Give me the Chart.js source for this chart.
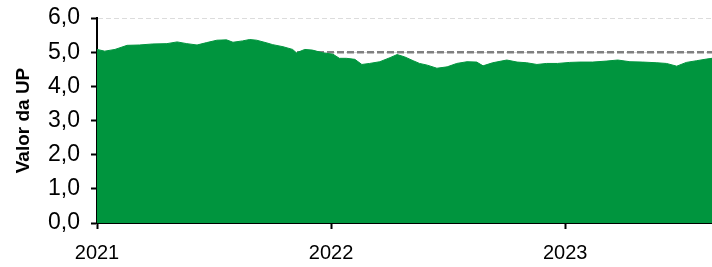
<!DOCTYPE html>
<html>
<head>
<meta charset="utf-8">
<script src="https://cdn.jsdelivr.net/npm/chart.js@4"></script>
<style>
  body { margin: 0; background: #fff; }
  #wrap { width: 712px; height: 267px; position: relative; }
</style>
</head>
<body>
<div id="wrap"><canvas id="chart"></canvas></div>
<script>
const dates = [
  "2021-01-01", "2021-01-13", "2021-01-29", "2021-02-17", "2021-03-08", "2021-03-29",
  "2021-04-20", "2021-05-06", "2021-05-21", "2021-06-06", "2021-06-21", "2021-07-07",
  "2021-07-22", "2021-08-01", "2021-08-16", "2021-08-27", "2021-09-07", "2021-09-23",
  "2021-10-02", "2021-10-18", "2021-11-02", "2021-11-08", "2021-11-21", "2021-12-03",
  "2021-12-19", "2022-01-04", "2022-01-14", "2022-01-25", "2022-02-07", "2022-02-18",
  "2022-03-02", "2022-03-18", "2022-04-03", "2022-04-14", "2022-04-26", "2022-05-09",
  "2022-05-19", "2022-05-31", "2022-06-15", "2022-07-01", "2022-07-16", "2022-08-01",
  "2022-08-16", "2022-08-26", "2022-09-10", "2022-10-02", "2022-10-18", "2022-11-02",
  "2022-11-18", "2022-12-03", "2022-12-20", "2023-01-08", "2023-01-24", "2023-02-13",
  "2023-03-07", "2023-03-24", "2023-04-12", "2023-05-02", "2023-05-24", "2023-06-08",
  "2023-06-24", "2023-07-09", "2023-07-25", "2023-08-10", "2023-08-18",
];
const values = [
  5.08, 5.03, 5.08, 5.20, 5.21, 5.24,
  5.25, 5.30, 5.25, 5.21, 5.28, 5.35,
  5.36, 5.29, 5.33, 5.37, 5.35, 5.27,
  5.22, 5.16, 5.08, 4.98, 5.08, 5.06,
  4.98, 4.94, 4.82, 4.82, 4.79, 4.64,
  4.67, 4.72, 4.84, 4.93, 4.86, 4.75,
  4.67, 4.62, 4.53, 4.57, 4.67, 4.72,
  4.71, 4.60, 4.69, 4.77, 4.71, 4.69,
  4.64, 4.67, 4.67, 4.70, 4.71, 4.71,
  4.74, 4.77, 4.72, 4.71, 4.69, 4.67,
  4.59, 4.70, 4.75, 4.80, 4.82,
];
const target = 5.0;
const yearTicks = [2021, 2022, 2023];
const yTicks = [0, 1, 2, 3, 4, 5, 6];

function toYear(s) {
  const [y, m, d] = s.split("-").map(Number);
  const start = Date.UTC(y, 0, 1);
  const end = Date.UTC(y + 1, 0, 1);
  return y + (Date.UTC(y, m - 1, d) - start) / (end - start);
}

const xs = dates.map(toYear);
const green = "#00953e";

new Chart(document.getElementById("chart"), {
  type: "line",
  data: {
    datasets: [
      {
        label: "Valor da UP",
        data: xs.map((x, i) => ({ x, y: values[i] })),
        backgroundColor: green,
        borderColor: green,
        borderWidth: 1,
        pointRadius: 0,
        tension: 0,
        fill: "origin",
        order: 0,
      },
      {
        label: "Referência",
        data: xs.map((x) => ({ x, y: target })),
        borderColor: "#808080",
        borderWidth: 2.5,
        borderDash: [7, 3],
        pointRadius: 0,
        fill: false,
        order: 1,
      },
    ],
  },
  options: {
    responsive: true,
    maintainAspectRatio: false,
    animation: false,
    layout: { padding: { top: 18, right: 0, left: 0, bottom: 0 } },
    plugins: { legend: { display: false }, tooltip: { enabled: false } },
    scales: {
      x: {
        type: "linear",
        min: xs[0],
        max: xs[xs.length - 1],
        afterBuildTicks: (axis) => {
          axis.ticks = yearTicks.map((v) => ({ value: v }));
        },
        afterFit: (axis) => {
          axis.height = 44;
          axis.paddingLeft = 0;
          axis.paddingRight = 0;
        },
        ticks: {
          color: "#000",
          font: { family: "Liberation Sans", size: 20 },
          padding: 12,
          maxRotation: 0,
          callback: (v) => String(v),
        },
        grid: {
          drawOnChartArea: false,
          tickLength: 6,
          tickColor: "#000",
          tickWidth: 2,
        },
        border: { color: "#000", width: 2 },
      },
      y: {
        min: 0,
        max: 6,
        afterBuildTicks: (axis) => {
          axis.ticks = yTicks.map((v) => ({ value: v }));
        },
        afterFit: (axis) => {
          axis.width = 97;
          axis.paddingTop = 0;
          axis.paddingBottom = 0;
        },
        ticks: {
          color: "#000",
          font: { family: "Liberation Sans", size: 23 },
          padding: 11,
          callback: (v) => v.toFixed(1).replace(".", ","),
        },
        grid: {
          color: "#dcdcdc",
          lineWidth: 1,
          tickLength: 6,
          tickColor: "#000",
          tickWidth: 2,
        },
        border: { color: "#000", width: 2, dash: [5, 3] },
        title: {
          display: true,
          text: "Valor da UP",
          color: "#000",
          font: { family: "Liberation Sans", size: 19, weight: "bold" },
          padding: { top: 12, bottom: 0 },
        },
      },
    },
  },
});
</script>
</body>
</html>
